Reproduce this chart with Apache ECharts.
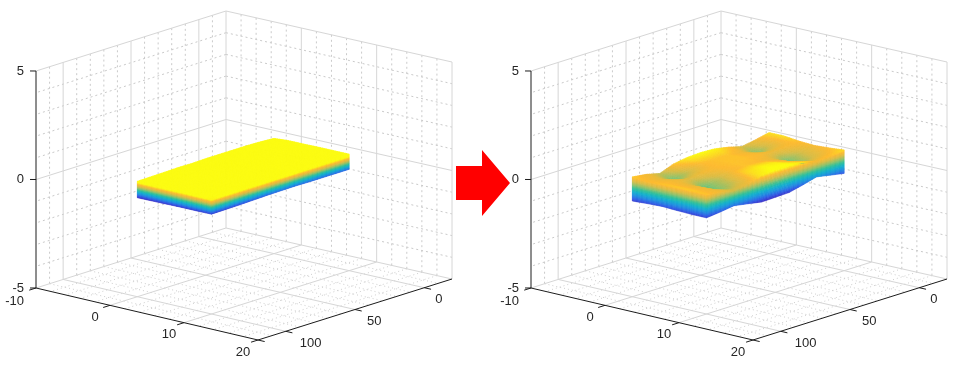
<!DOCTYPE html>
<html>
<head>
    <meta charset="utf-8">
    <title>surface before / after</title>
    <script src="https://cdn.jsdelivr.net/npm/echarts@6/dist/echarts.min.js"></script>
    <style>html, body { margin: 0; background: #fff; }</style>
</head>
<body>
<div id="main" style="width: 964px;height:377px;"></div>
<script type="text/javascript">
    // axis limits and ticks
    const xLim = [-10, 20];
    const yLim = [-20, 120];
    const zLim = [-5, 5];
    const xTicks = [-10, 0, 10, 20];
    const yTicks = [0, 50, 100];
    const zTicks = [-5, 0, 5];
    const xMinor = [-8, -6, -4, -2, 2, 4, 6, 8, 12, 14, 16, 18];
    const yMinor = [-10, 10, 20, 30, 40, 60, 70, 80, 90, 110];
    const zMinor = [-4, -3, -2, -1, 1, 2, 3, 4];

    // surface nodes
    const xNodes = [0, 2, 4, 6, 8, 10];
    const yNodes = [0, 10, 20, 30, 40, 50, 60, 70, 80, 90, 100];

    // top of the block, rows follow xNodes, columns follow yNodes
    const leftTop = [
        [0.31, 0.35, 0.37, 0.37, 0.37, 0.37, 0.35, 0.36, 0.34, 0.33, 0.32],
        [0.36, 0.36, 0.36, 0.36, 0.36, 0.35, 0.35, 0.35, 0.34, 0.33, 0.32],
        [0.36, 0.36, 0.36, 0.35, 0.35, 0.35, 0.35, 0.34, 0.33, 0.32, 0.31],
        [0.37, 0.36, 0.35, 0.35, 0.35, 0.34, 0.34, 0.33, 0.32, 0.31, 0.30],
        [0.37, 0.36, 0.35, 0.35, 0.34, 0.34, 0.33, 0.32, 0.31, 0.30, 0.28],
        [0.37, 0.36, 0.35, 0.35, 0.34, 0.33, 0.32, 0.31, 0.30, 0.28, 0.26]
    ];
    const rightTop = [
        [0.58, 0.44, 0.33, 0.50, 0.62, 0.65, 0.62, 0.52, 0.28, 0.44, 0.52],
        [0.58, 0.36, 0.14, 0.42, 0.50, 0.50, 0.48, 0.30, 0.10, 0.38, 0.48],
        [0.50, 0.46, 0.42, 0.47, 0.50, 0.50, 0.48, 0.44, 0.36, 0.44, 0.50],
        [0.46, 0.32, 0.12, 0.40, 0.48, 0.50, 0.46, 0.26, 0.10, 0.40, 0.52],
        [0.50, 0.36, 0.20, 0.46, 0.60, 0.62, 0.55, 0.30, 0.14, 0.42, 0.52],
        [0.56, 0.50, 0.45, 0.58, 0.66, 0.66, 0.60, 0.42, 0.32, 0.44, 0.50]
    ];

    // underside seen along the two front faces
    const leftBottomY100 = [-0.44, -0.43, -0.42, -0.41, -0.41, -0.40];
    const leftBottomX10 = [-0.33, -0.33, -0.33, -0.33, -0.32, -0.33, -0.34, -0.36, -0.38, -0.39, -0.40];
    const rightBottomY100 = [-0.59, -0.55, -0.52, -0.55, -0.57, -0.57];
    const rightBottomX10 = [-0.52, -0.40, -0.28, -0.45, -0.60, -0.62, -0.64, -0.52, -0.41, -0.50, -0.57];

    // colour range of each panel
    const leftClim = [-0.42, 0.27];
    const rightClim = [-0.62, 0.64];

    const parula = ['#3b2fc8', '#2f5fe6', '#1f8fe0', '#12b0cc', '#2fc09a', '#8ec26a', '#d8bc45', '#fdbb30', '#fbfb10'];

    // floor corners on screen, z = -5 sits on these
    const cornerBack = [226, 228];
    const cornerRight = [452, 279];
    const cornerLeft = [36, 288];
    const cornerFront = [258, 340];
    const zPixels = 21.7;

    function project(x, y, z) {
        const u = (x - xLim[0]) / (xLim[1] - xLim[0]);
        const v = (y - yLim[0]) / (yLim[1] - yLim[0]);
        const px = cornerBack[0] * (1 - u) * (1 - v) + cornerRight[0] * u * (1 - v)
            + cornerLeft[0] * (1 - u) * v + cornerFront[0] * u * v;
        const py = cornerBack[1] * (1 - u) * (1 - v) + cornerRight[1] * u * (1 - v)
            + cornerLeft[1] * (1 - u) * v + cornerFront[1] * u * v;
        return [px, py - (z - zLim[0]) * zPixels];
    }

    function hexToRgb(h) {
        return [parseInt(h.substr(1, 2), 16), parseInt(h.substr(3, 2), 16), parseInt(h.substr(5, 2), 16)];
    }

    function colorAt(z, clim) {
        let t = (z - clim[0]) / (clim[1] - clim[0]);
        t = Math.max(0, Math.min(1, t)) * (parula.length - 1);
        const i = Math.min(Math.floor(t), parula.length - 2);
        const a = hexToRgb(parula[i]);
        const b = hexToRgb(parula[i + 1]);
        const f = t - i;
        return 'rgb(' + [0, 1, 2].map(k => Math.round(a[k] + (b[k] - a[k]) * f)).join(',') + ')';
    }

    // line kinds: 0 major grid, 1 minor grid on walls, 2 axis / tick, 3 minor grid on floor
    const frameRows = [];
    function addLine(x0, y0, z0, x1, y1, z1, kind) {
        frameRows.push([x0, y0, z0, x1, y1, z1, kind]);
    }
    const xa = xLim[0], xb = xLim[1], ya = yLim[0], yb = yLim[1], za = zLim[0], zb = zLim[1];
    xMinor.forEach(x => {
        addLine(x, ya, za, x, ya, zb, 1);
        addLine(x, ya, za, x, yb, za, 3);
    });
    yMinor.forEach(y => {
        addLine(xa, y, za, xa, y, zb, 1);
        addLine(xa, y, za, xb, y, za, 3);
    });
    zMinor.forEach(z => {
        addLine(xa, ya, z, xa, yb, z, 1);
        addLine(xa, ya, z, xb, ya, z, 1);
    });
    xTicks.slice(1, 3).forEach(x => {
        addLine(x, ya, za, x, ya, zb, 0);
        addLine(x, ya, za, x, yb, za, 0);
    });
    yTicks.forEach(y => {
        addLine(xa, y, za, xa, y, zb, 0);
        addLine(xa, y, za, xb, y, za, 0);
    });
    [0, za, zb].forEach(z => {
        addLine(xa, ya, z, xa, yb, z, 0);
        addLine(xa, ya, z, xb, ya, z, 0);
    });
    addLine(xa, ya, za, xa, ya, zb, 0);
    addLine(xb, ya, za, xb, ya, zb, 0);
    // black axes
    addLine(xa, yb, za, xa, yb, zb, 2);
    addLine(xa, yb, za, xb, yb, za, 2);
    addLine(xb, yb, za, xb, ya, za, 2);
    // ticks point outwards along the other floor direction
    xTicks.forEach(x => addLine(x, yb, za, x, yb + 5, za, 2));
    yTicks.concat([yb]).forEach(y => addLine(xb, y, za, xb + 0.9, y, za, 2));
    // z ticks run flat to the left on screen
    zTicks.forEach(z => addLine(xa, yb, z, xa - 0.47, yb + 1.84, z, 2));

    // label rows: value, x, y, z, dx, dy, align (0 right, 1 center, 2 left)
    const labelRows = [];
    zTicks.forEach(z => labelRows.push([z, xa, yb, z, -12, 0, 0]));
    labelRows.push([xTicks[0], xa, yb, za, -12, 13, 0]);
    xTicks.slice(1).forEach(x => labelRows.push([x, x, yb, za, -15, 12, 1]));
    const yLabelShift = [11, 12, 14];
    yTicks.forEach((y, i) => labelRows.push([y, xb, y, za, yLabelShift[i], 12, 2]));

    function surfaceRows(top) {
        const rows = [];
        for (let i = 0; i < xNodes.length - 1; i++) {
            for (let j = 0; j < yNodes.length - 1; j++) {
                rows.push([xNodes[i], xNodes[i + 1], yNodes[j], yNodes[j + 1],
                    top[i][j], top[i][j + 1], top[i + 1][j], top[i + 1][j + 1]]);
            }
        }
        return rows;
    }

    function sideRows(top, bottomY100, bottomX10) {
        const rows = [];
        const last = xNodes.length - 1, lastY = yNodes.length - 1;
        for (let j = 0; j < lastY; j++) {
            rows.push([xNodes[last], yNodes[j], xNodes[last], yNodes[j + 1],
                top[last][j], top[last][j + 1], bottomX10[j], bottomX10[j + 1]]);
        }
        for (let i = 0; i < last; i++) {
            rows.push([xNodes[i], yNodes[lastY], xNodes[i + 1], yNodes[lastY],
                top[i][lastY], top[i + 1][lastY], bottomY100[i], bottomY100[i + 1]]);
        }
        return rows;
    }

    function poly(api, pts, z, clim) {
        const color = colorAt(z, clim);
        return {
            type: 'polygon',
            shape: {points: pts.map(p => api.coord(p))},
            style: {fill: color, stroke: color, lineWidth: 0.6}
        };
    }

    function renderFrame(params, api) {
        const a = api.coord(project(api.value(0), api.value(1), api.value(2)));
        const b = api.coord(project(api.value(3), api.value(4), api.value(5)));
        const kind = api.value(6);
        let style = {stroke: '#d6d6d6', lineWidth: 1};
        if (kind === 2) {
            style = {stroke: '#1c1c1c', lineWidth: 1};
        } else if (kind === 1) {
            style = {stroke: '#cacaca', lineWidth: 1, lineDash: [2, 3]};
        } else if (kind === 3) {
            style = {stroke: '#cfcfcf', lineWidth: 1, lineDash: [1, 3]};
        }
        return {type: 'line', shape: {x1: a[0], y1: a[1], x2: b[0], y2: b[1]}, style: style};
    }

    function renderLabel(params, api) {
        const p = api.coord(project(api.value(1), api.value(2), api.value(3)));
        return {
            type: 'text',
            style: {
                text: String(api.value(0)),
                x: p[0] + api.value(4),
                y: p[1] + api.value(5),
                font: '13px "Liberation Sans", Arial, sans-serif',
                fill: '#262626',
                align: ['right', 'center', 'left'][api.value(6)],
                verticalAlign: 'middle'
            }
        };
    }

    // one cell of the top, split finely so the colour runs smoothly
    function renderTop(clim) {
        const n = 8;
        return function (params, api) {
            const v = [0, 1, 2, 3, 4, 5, 6, 7].map(k => api.value(k));
            const zAt = (s, t) => v[4] * (1 - s) * (1 - t) + v[5] * (1 - s) * t + v[6] * s * (1 - t) + v[7] * s * t;
            const at = (s, t) => project(v[0] + (v[1] - v[0]) * s, v[2] + (v[3] - v[2]) * t, zAt(s, t));
            const children = [];
            for (let a = 0; a < n; a++) {
                for (let b = 0; b < n; b++) {
                    const s0 = a / n, s1 = (a + 1) / n, t0 = b / n, t1 = (b + 1) / n;
                    children.push(poly(api, [at(s0, t0), at(s0, t1), at(s1, t1), at(s1, t0)],
                        zAt((s0 + s1) / 2, (t0 + t1) / 2), clim));
                }
            }
            return {type: 'group', children: children};
        };
    }

    // one column of a front face, stacked in thin layers
    function renderSide(clim) {
        const layers = 24, n = 3;
        return function (params, api) {
            const v = [0, 1, 2, 3, 4, 5, 6, 7].map(k => api.value(k));
            const children = [];
            for (let b = 0; b < n; b++) {
                const s0 = b / n, s1 = (b + 1) / n;
                const xy = s => [v[0] + (v[2] - v[0]) * s, v[1] + (v[3] - v[1]) * s];
                const top = s => v[4] + (v[5] - v[4]) * s;
                const bot = s => v[6] + (v[7] - v[6]) * s;
                const zOf = (s, l) => bot(s) + (top(s) - bot(s)) * l / layers;
                for (let l = 0; l < layers; l++) {
                    const p0 = xy(s0), p1 = xy(s1);
                    children.push(poly(api, [
                        project(p0[0], p0[1], zOf(s0, l)),
                        project(p1[0], p1[1], zOf(s1, l)),
                        project(p1[0], p1[1], zOf(s1, l + 1)),
                        project(p0[0], p0[1], zOf(s0, l + 1))
                    ], (zOf((s0 + s1) / 2, l) + zOf((s0 + s1) / 2, l + 1)) / 2, clim));
                }
            }
            return {type: 'group', children: children};
        };
    }

    function panelSeries(index, top, bottomY100, bottomX10, clim) {
        const axes = {xAxisIndex: index, yAxisIndex: index, coordinateSystem: 'cartesian2d'};
        const base = {type: 'custom', silent: true, progressive: 0, animation: false};
        return [
            {...base, ...axes, z: 1, data: frameRows, renderItem: renderFrame},
            {...base, ...axes, z: 2, data: sideRows(top, bottomY100, bottomX10), renderItem: renderSide(clim)},
            {...base, ...axes, z: 3, data: surfaceRows(top), renderItem: renderTop(clim)},
            {...base, ...axes, z: 4, data: labelRows, renderItem: renderLabel}
        ];
    }

    const myChart = echarts.init(document.getElementById('main'), null, {renderer: 'canvas'});
    const planeAxisX = {type: 'value', min: 0, max: 469, show: false};
    const planeAxisY = {type: 'value', min: 0, max: 377, inverse: true, show: false};
    const option = {
        animation: false,
        backgroundColor: '#fff',
        grid: [
            {left: 0, top: 0, width: 469, height: 377},
            {left: 495, top: 0, width: 469, height: 377}
        ],
        xAxis: [{...planeAxisX, gridIndex: 0}, {...planeAxisX, gridIndex: 1}],
        yAxis: [{...planeAxisY, gridIndex: 0}, {...planeAxisY, gridIndex: 1}],
        series: panelSeries(0, leftTop, leftBottomY100, leftBottomX10, leftClim)
            .concat(panelSeries(1, rightTop, rightBottomY100, rightBottomX10, rightClim)),
        graphic: [{
            type: 'polygon',
            z: 10,
            shape: {points: [[456, 166], [482, 166], [482, 150], [510, 183], [482, 216], [482, 200], [456, 200]]},
            style: {fill: '#ff0000'}
        }]
    };
    myChart.setOption(option);
</script>
</body>
</html>
